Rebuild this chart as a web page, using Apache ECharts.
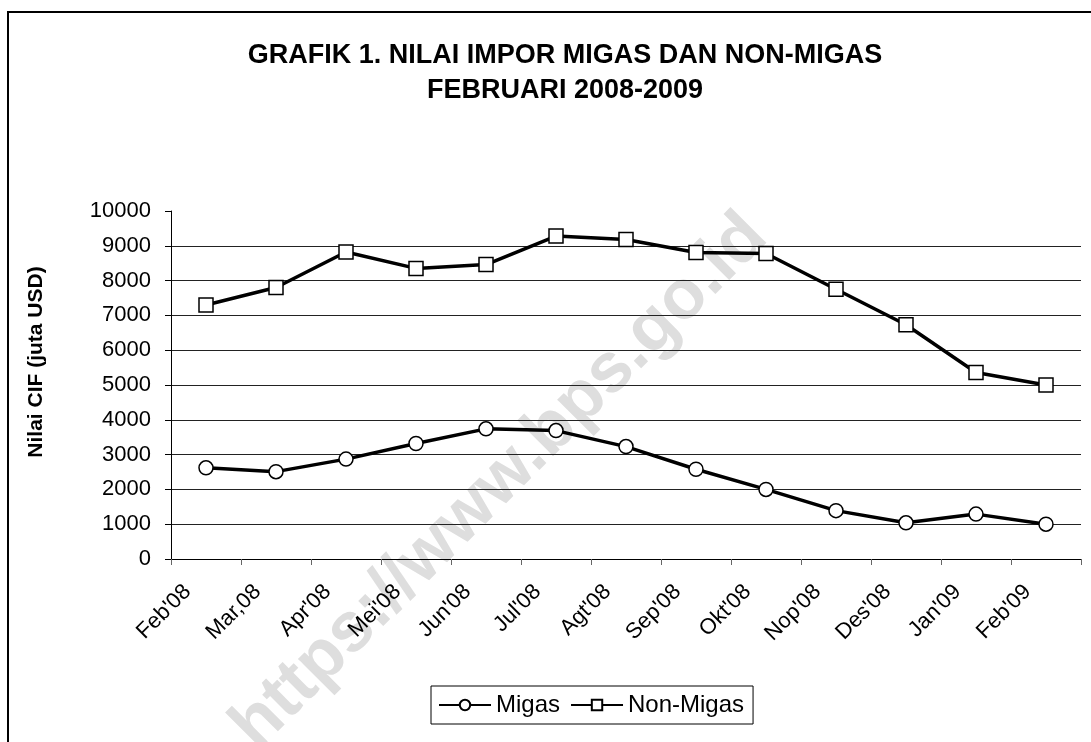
<!DOCTYPE html>
<html>
<head>
<meta charset="utf-8">
<script src="https://cdn.jsdelivr.net/npm/echarts@6/dist/echarts.min.js"></script>
<style>
html,body{margin:0;padding:0;background:#fff;}
#chart{width:1091px;height:742px;}
</style>
</head>
<body>
<div id="chart"></div>
<script>
const titleLines = ['GRAFIK 1. NILAI IMPOR MIGAS DAN NON-MIGAS', 'FEBRUARI 2008-2009'];
const yAxisName = 'Nilai CIF (juta USD)';
const categories = ["Feb'08", "Mar,08", "Apr'08", "Mei'08", "Jun'08", "Jul'08", "Agt'08", "Sep'08", "Okt'08", "Nop'08", "Des'08", "Jan'09", "Feb'09"];
const migas = [2620, 2510, 2870, 3320, 3740, 3690, 3230, 2580, 2000, 1390, 1040, 1290, 1000];
const nonMigas = [7300, 7800, 8820, 8350, 8460, 9280, 9180, 8810, 8780, 7750, 6730, 5360, 5000];
const seriesNames = ['Migas', 'Non-Migas'];
const watermark = 'https://www.bps.go.id';

const FONT = '"Liberation Sans", Arial, sans-serif';
const chart = echarts.init(document.getElementById('chart'), null, {renderer: 'canvas'});
chart.setOption({
  animation: false,
  backgroundColor: '#fff',
  title: {
    text: titleLines.join('\n'),
    left: 560, top: 33, textAlign: 'center',
    textStyle: {fontFamily: FONT, fontWeight: 'bold', fontSize: 27, lineHeight: 35, color: '#000'}
  },
  graphic: [
    {type: 'rect', shape: {x: 8, y: 12, width: 1200, height: 900}, style: {fill: null, stroke: '#000', lineWidth: 2}, z: -20, silent: true},
    {type: 'text', x: 500, y: 482, rotation: Math.PI / 4, z: -10, silent: true,
     style: {text: watermark, fill: '#dedede', font: 'bold 70px "Liberation Sans", Arial, sans-serif', align: 'center', verticalAlign: 'middle'}}
  ],
  legend: {
    data: seriesNames,
    left: 431, top: 686,
    itemWidth: 52, itemHeight: 13, itemGap: 10,
    padding: [7, 9, 7, 7],
    borderColor: '#000', borderWidth: 1,
    textStyle: {fontFamily: FONT, fontSize: 24, color: '#000', padding: [0, 0, 0, 0]}
  },
  grid: {left: 171, right: 10, top: 211, bottom: 183, containLabel: false},
  xAxis: {
    type: 'category', data: categories, boundaryGap: true,
    axisLine: {show: true, lineStyle: {color: '#000', width: 1}},
    axisTick: {show: true, length: 6, lineStyle: {color: '#666'}},
    axisLabel: {rotate: 45, margin: 11, padding: [0, 26, 0, 0], fontFamily: FONT, fontSize: 22, color: '#000', interval: 0}
  },
  yAxis: {
    type: 'value', min: 0, max: 10000, interval: 1000,
    name: yAxisName, nameLocation: 'middle', nameGap: 124,
    nameTextStyle: {fontFamily: FONT, fontWeight: 'bold', fontSize: 21, color: '#000', padding: [0, 0, 0, 46]},
    axisLine: {show: true, lineStyle: {color: '#000', width: 1}},
    axisTick: {show: true, length: 6, lineStyle: {color: '#000'}},
    axisLabel: {margin: 20, fontFamily: FONT, fontSize: 22, color: '#000', formatter: v => String(v)},
    splitLine: {show: true, showMinLine: false, showMaxLine: false, lineStyle: {color: '#222', width: 1}}
  },
  series: [
    {name: seriesNames[0], type: 'line', data: migas, symbol: 'circle', symbolSize: 14,
     lineStyle: {color: '#000', width: 3.5}, itemStyle: {color: '#fff', borderColor: '#000', borderWidth: 1.5}, z: 5},
    {name: seriesNames[1], type: 'line', data: nonMigas, symbol: 'rect', symbolSize: 14,
     lineStyle: {color: '#000', width: 3.5}, itemStyle: {color: '#fff', borderColor: '#000', borderWidth: 1.5}, z: 5}
  ]
});
</script>
</body>
</html>
